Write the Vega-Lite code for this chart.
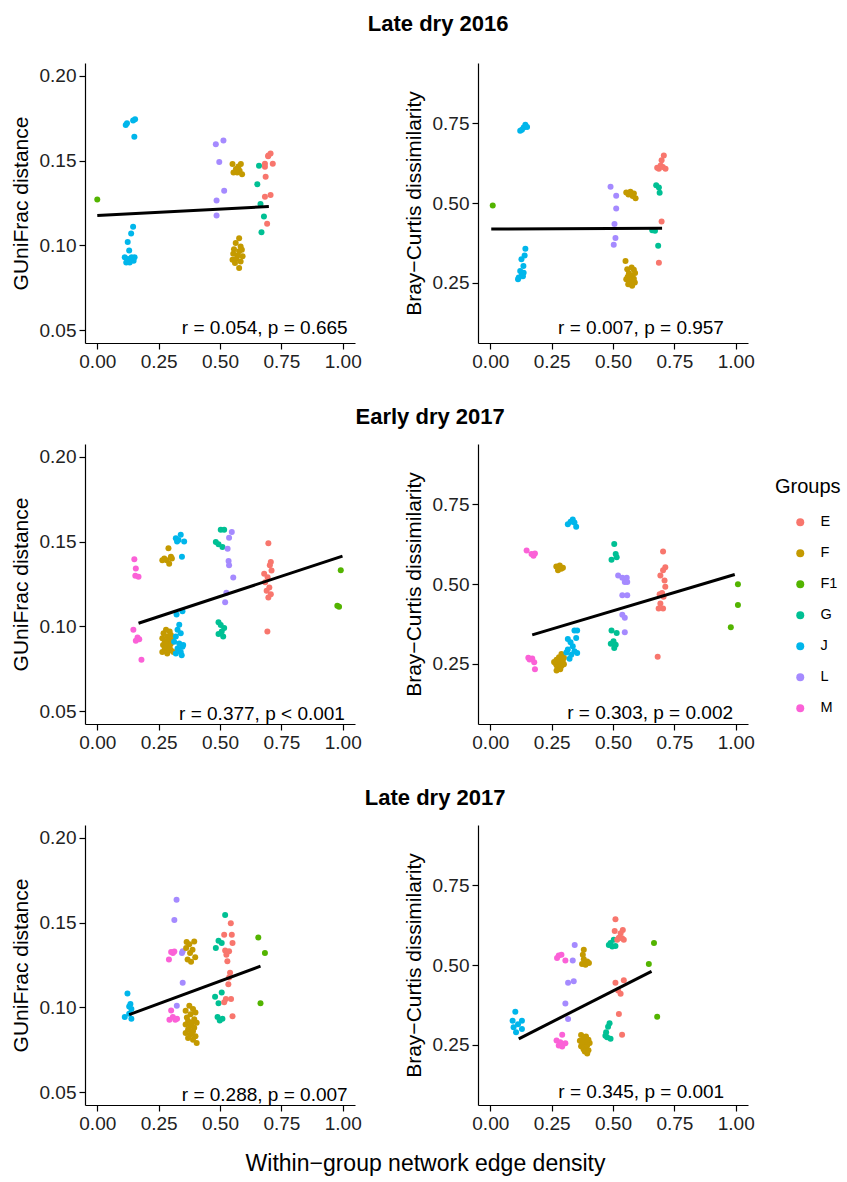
{
"$schema": "https://vega.github.io/schema/vega-lite/v6.json",
"padding": {"left": 10, "top": 13, "right": 0, "bottom": 0},
"config": {
 "font": "Liberation Sans",
 "view": {"stroke": null},
 "axis": {"grid": false, "domainColor": "#000", "domainWidth": 1.2, "tickColor": "#000", "tickWidth": 1.2, "tickSize": 6, "labelColor": "#222", "labelFontSize": 19, "labelPadding": 3, "titleFontSize": 21, "titleFontWeight": "normal", "titleColor": "#000", "titlePadding": 8},
 "legend": {"orient": "none", "legendX": 690, "legendY": 414, "symbolType": "circle", "symbolSize": 64, "symbolOffset": 18, "labelFontSize": 14.5, "labelColor": "#000", "titleFontSize": 20, "titleFontWeight": "normal", "titleColor": "#000", "rowPadding": 16, "titlePadding": 18, "labelOffset": 13, "padding": 0, "symbolStrokeWidth": 0}
},
"datasets": {
 "g16": [
  {"g":"F1","x":0.0,"y":0.127},
  {"g":"J","x":0.116,"y":0.171},{"g":"J","x":0.121,"y":0.172},{"g":"J","x":0.146,"y":0.1736},{"g":"J","x":0.154,"y":0.1744},{"g":"J","x":0.151,"y":0.164},
  {"g":"J","x":0.146,"y":0.111},{"g":"J","x":0.138,"y":0.107},{"g":"J","x":0.124,"y":0.102},{"g":"J","x":0.13,"y":0.097},{"g":"J","x":0.112,"y":0.093},{"g":"J","x":0.125,"y":0.092},{"g":"J","x":0.14,"y":0.093},{"g":"J","x":0.148,"y":0.091},{"g":"J","x":0.118,"y":0.09},{"g":"J","x":0.132,"y":0.09},{"g":"J","x":0.152,"y":0.093},{"g":"J","x":0.128,"y":0.0905},
  {"g":"L","x":0.483,"y":0.1596},{"g":"L","x":0.514,"y":0.1619},{"g":"L","x":0.497,"y":0.1492},{"g":"L","x":0.517,"y":0.1322},{"g":"L","x":0.486,"y":0.1264},{"g":"L","x":0.486,"y":0.1176},
  {"g":"F","x":0.551,"y":0.148},{"g":"F","x":0.585,"y":0.148},{"g":"F","x":0.565,"y":0.145},{"g":"F","x":0.58,"y":0.144},{"g":"F","x":0.555,"y":0.143},{"g":"F","x":0.59,"y":0.142},{"g":"F","x":0.57,"y":0.143},{"g":"F","x":0.575,"y":0.1465},
  {"g":"F","x":0.578,"y":0.1043},{"g":"F","x":0.564,"y":0.1014},{"g":"F","x":0.584,"y":0.0994},{"g":"F","x":0.557,"y":0.0978},{"g":"F","x":0.578,"y":0.0965},{"g":"F","x":0.589,"y":0.0975},{"g":"F","x":0.554,"y":0.0951},{"g":"F","x":0.571,"y":0.0939},{"g":"F","x":0.592,"y":0.0936},{"g":"F","x":0.551,"y":0.0916},{"g":"F","x":0.567,"y":0.092},{"g":"F","x":0.584,"y":0.0906},{"g":"F","x":0.561,"y":0.0897},{"g":"F","x":0.578,"y":0.0867},
  {"g":"G","x":0.659,"y":0.1469},{"g":"G","x":0.652,"y":0.1361},{"g":"G","x":0.665,"y":0.1244},{"g":"G","x":0.679,"y":0.117},{"g":"G","x":0.669,"y":0.1078},
  {"g":"E","x":0.706,"y":0.1541},{"g":"E","x":0.696,"y":0.1525},{"g":"E","x":0.683,"y":0.1482},{"g":"E","x":0.683,"y":0.1463},{"g":"E","x":0.715,"y":0.1482},{"g":"E","x":0.686,"y":0.1404},{"g":"E","x":0.706,"y":0.1297},{"g":"E","x":0.683,"y":0.1287},{"g":"E","x":0.692,"y":0.1127},{"g":"E","x":0.697,"y":0.153}
 ],
 "b16": [
  {"g":"F1","x":0.01,"y":0.492},
  {"g":"J","x":0.122,"y":0.727},{"g":"J","x":0.136,"y":0.737},{"g":"J","x":0.143,"y":0.746},{"g":"J","x":0.15,"y":0.739},{"g":"J","x":0.129,"y":0.73},
  {"g":"J","x":0.143,"y":0.356},{"g":"J","x":0.14,"y":0.335},{"g":"J","x":0.127,"y":0.323},{"g":"J","x":0.135,"y":0.302},{"g":"J","x":0.122,"y":0.286},{"g":"J","x":0.136,"y":0.281},{"g":"J","x":0.129,"y":0.276},{"g":"J","x":0.116,"y":0.266},{"g":"J","x":0.113,"y":0.26},{"g":"J","x":0.133,"y":0.27},
  {"g":"L","x":0.49,"y":0.551},{"g":"L","x":0.513,"y":0.523},{"g":"L","x":0.513,"y":0.483},{"g":"L","x":0.506,"y":0.434},{"g":"L","x":0.51,"y":0.39},{"g":"L","x":0.503,"y":0.369},
  {"g":"F","x":0.554,"y":0.533},{"g":"F","x":0.571,"y":0.535},{"g":"F","x":0.585,"y":0.53},{"g":"F","x":0.563,"y":0.527},{"g":"F","x":0.592,"y":0.515},{"g":"F","x":0.58,"y":0.522},{"g":"F","x":0.575,"y":0.528},
  {"g":"F","x":0.551,"y":0.318},{"g":"F","x":0.576,"y":0.297},{"g":"F","x":0.558,"y":0.292},{"g":"F","x":0.585,"y":0.29},{"g":"F","x":0.565,"y":0.279},{"g":"F","x":0.578,"y":0.271},{"g":"F","x":0.554,"y":0.26},{"g":"F","x":0.571,"y":0.255},{"g":"F","x":0.589,"y":0.25},{"g":"F","x":0.562,"y":0.245},{"g":"F","x":0.578,"y":0.24},{"g":"F","x":0.585,"y":0.262},{"g":"F","x":0.56,"y":0.268},{"g":"F","x":0.59,"y":0.28},
  {"g":"G","x":0.676,"y":0.556},{"g":"G","x":0.687,"y":0.549},{"g":"G","x":0.69,"y":0.532},{"g":"G","x":0.66,"y":0.414},{"g":"G","x":0.671,"y":0.413},{"g":"G","x":0.684,"y":0.366},
  {"g":"E","x":0.707,"y":0.649},{"g":"E","x":0.698,"y":0.634},{"g":"E","x":0.694,"y":0.618},{"g":"E","x":0.687,"y":0.608},{"g":"E","x":0.703,"y":0.613},{"g":"E","x":0.714,"y":0.608},{"g":"E","x":0.68,"y":0.611},{"g":"E","x":0.698,"y":0.442},{"g":"E","x":0.687,"y":0.312}
 ],
 "g17e": [
  {"g":"M","x":0.151,"y":0.1396},{"g":"M","x":0.157,"y":0.1341},{"g":"M","x":0.155,"y":0.1298},{"g":"M","x":0.168,"y":0.1292},{"g":"M","x":0.147,"y":0.098},{"g":"M","x":0.164,"y":0.0934},{"g":"M","x":0.157,"y":0.0915},{"g":"M","x":0.171,"y":0.0925},{"g":"M","x":0.18,"y":0.0804},
  {"g":"F","x":0.29,"y":0.146},{"g":"F","x":0.273,"y":0.14},{"g":"F","x":0.283,"y":0.139},{"g":"F","x":0.3,"y":0.141},{"g":"F","x":0.265,"y":0.139},{"g":"F","x":0.293,"y":0.137},{"g":"F","x":0.304,"y":0.14},
  {"g":"F","x":0.28,"y":0.098},{"g":"F","x":0.295,"y":0.097},{"g":"F","x":0.27,"y":0.096},{"g":"F","x":0.3,"y":0.095},{"g":"F","x":0.285,"y":0.094},{"g":"F","x":0.265,"y":0.093},{"g":"F","x":0.29,"y":0.092},{"g":"F","x":0.305,"y":0.092},{"g":"F","x":0.275,"y":0.091},{"g":"F","x":0.3,"y":0.09},{"g":"F","x":0.268,"y":0.089},{"g":"F","x":0.285,"y":0.089},{"g":"F","x":0.295,"y":0.088},{"g":"F","x":0.275,"y":0.087},{"g":"F","x":0.3,"y":0.086},{"g":"F","x":0.265,"y":0.085},{"g":"F","x":0.285,"y":0.084},{"g":"F","x":0.31,"y":0.085},{"g":"F","x":0.28,"y":0.09},{"g":"F","x":0.29,"y":0.086},
  {"g":"J","x":0.32,"y":0.152},{"g":"J","x":0.34,"y":0.154},{"g":"J","x":0.331,"y":0.151},{"g":"J","x":0.354,"y":0.15},{"g":"J","x":0.345,"y":0.141},{"g":"J","x":0.325,"y":0.15},
  {"g":"J","x":0.347,"y":0.109},{"g":"J","x":0.323,"y":0.107},{"g":"J","x":0.334,"y":0.101},{"g":"J","x":0.327,"y":0.098},{"g":"J","x":0.34,"y":0.096},{"g":"J","x":0.32,"y":0.094},{"g":"J","x":0.313,"y":0.091},{"g":"J","x":0.334,"y":0.09},{"g":"J","x":0.347,"y":0.088},{"g":"J","x":0.327,"y":0.087},{"g":"J","x":0.34,"y":0.085},{"g":"J","x":0.32,"y":0.084},{"g":"J","x":0.344,"y":0.083},{"g":"J","x":0.35,"y":0.089},
  {"g":"G","x":0.483,"y":0.1498},{"g":"G","x":0.494,"y":0.1484},{"g":"G","x":0.503,"y":0.157},{"g":"G","x":0.517,"y":0.157},{"g":"G","x":0.51,"y":0.1468},
  {"g":"G","x":0.494,"y":0.1024},{"g":"G","x":0.503,"y":0.1009},{"g":"G","x":0.517,"y":0.099},{"g":"G","x":0.507,"y":0.097},{"g":"G","x":0.494,"y":0.0956},{"g":"G","x":0.513,"y":0.094},
  {"g":"L","x":0.548,"y":0.1556},{"g":"L","x":0.537,"y":0.1523},{"g":"L","x":0.531,"y":0.1458},{"g":"L","x":0.535,"y":0.1386},{"g":"L","x":0.537,"y":0.1361},{"g":"L","x":0.554,"y":0.1288},{"g":"L","x":0.526,"y":0.1198},{"g":"L","x":0.521,"y":0.1142},
  {"g":"E","x":0.697,"y":0.149},{"g":"E","x":0.707,"y":0.138},{"g":"E","x":0.703,"y":0.136},{"g":"E","x":0.68,"y":0.131},{"g":"E","x":0.694,"y":0.129},{"g":"E","x":0.684,"y":0.126},{"g":"E","x":0.701,"y":0.123},{"g":"E","x":0.69,"y":0.121},{"g":"E","x":0.707,"y":0.119},{"g":"E","x":0.697,"y":0.117},{"g":"E","x":0.693,"y":0.097},{"g":"E","x":0.71,"y":0.133},
  {"g":"F1","x":0.992,"y":0.1331},{"g":"F1","x":0.978,"y":0.1122},{"g":"F1","x":0.985,"y":0.1116}
 ],
 "b17e": [
  {"g":"M","x":0.148,"y":0.605},{"g":"M","x":0.168,"y":0.594},{"g":"M","x":0.182,"y":0.596},{"g":"M","x":0.176,"y":0.589},{"g":"M","x":0.155,"y":0.268},{"g":"M","x":0.171,"y":0.266},{"g":"M","x":0.179,"y":0.254},{"g":"M","x":0.182,"y":0.232},{"g":"M","x":0.16,"y":0.263},
  {"g":"F","x":0.269,"y":0.555},{"g":"F","x":0.283,"y":0.558},{"g":"F","x":0.289,"y":0.548},{"g":"F","x":0.276,"y":0.543},{"g":"F","x":0.296,"y":0.551},{"g":"F","x":0.279,"y":0.553},
  {"g":"F","x":0.29,"y":0.28},{"g":"F","x":0.28,"y":0.27},{"g":"F","x":0.3,"y":0.268},{"g":"F","x":0.27,"y":0.262},{"g":"F","x":0.285,"y":0.258},{"g":"F","x":0.295,"y":0.255},{"g":"F","x":0.265,"y":0.252},{"g":"F","x":0.28,"y":0.25},{"g":"F","x":0.3,"y":0.248},{"g":"F","x":0.27,"y":0.245},{"g":"F","x":0.29,"y":0.242},{"g":"F","x":0.275,"y":0.238},{"g":"F","x":0.285,"y":0.232},{"g":"F","x":0.27,"y":0.228},{"g":"F","x":0.295,"y":0.262},{"g":"F","x":0.26,"y":0.255},
  {"g":"J","x":0.316,"y":0.688},{"g":"J","x":0.336,"y":0.703},{"g":"J","x":0.343,"y":0.693},{"g":"J","x":0.35,"y":0.68},{"g":"J","x":0.327,"y":0.696},
  {"g":"J","x":0.343,"y":0.354},{"g":"J","x":0.354,"y":0.354},{"g":"J","x":0.35,"y":0.33},{"g":"J","x":0.316,"y":0.327},{"g":"J","x":0.327,"y":0.317},{"g":"J","x":0.336,"y":0.304},{"g":"J","x":0.316,"y":0.294},{"g":"J","x":0.343,"y":0.289},{"g":"J","x":0.33,"y":0.278},{"g":"J","x":0.323,"y":0.265},{"g":"J","x":0.354,"y":0.283},{"g":"J","x":0.31,"y":0.285},
  {"g":"G","x":0.505,"y":0.626},{"g":"G","x":0.511,"y":0.594},{"g":"G","x":0.494,"y":0.576},{"g":"G","x":0.515,"y":0.584},{"g":"G","x":0.494,"y":0.354},{"g":"G","x":0.515,"y":0.346},{"g":"G","x":0.502,"y":0.32},{"g":"G","x":0.511,"y":0.309},{"g":"G","x":0.505,"y":0.299},{"g":"G","x":0.491,"y":0.312},
  {"g":"L","x":0.521,"y":0.527},{"g":"L","x":0.538,"y":0.52},{"g":"L","x":0.556,"y":0.52},{"g":"L","x":0.548,"y":0.506},{"g":"L","x":0.558,"y":0.506},{"g":"L","x":0.538,"y":0.465},{"g":"L","x":0.558,"y":0.465},{"g":"L","x":0.538,"y":0.403},{"g":"L","x":0.548,"y":0.394},{"g":"L","x":0.548,"y":0.348},
  {"g":"E","x":0.704,"y":0.602},{"g":"E","x":0.713,"y":0.553},{"g":"E","x":0.704,"y":0.543},{"g":"E","x":0.693,"y":0.527},{"g":"E","x":0.71,"y":0.511},{"g":"E","x":0.713,"y":0.491},{"g":"E","x":0.7,"y":0.472},{"g":"E","x":0.69,"y":0.468},{"g":"E","x":0.706,"y":0.46},{"g":"E","x":0.693,"y":0.439},{"g":"E","x":0.704,"y":0.423},{"g":"E","x":0.686,"y":0.423},{"g":"E","x":0.682,"y":0.271},
  {"g":"F1","x":1.009,"y":0.499},{"g":"F1","x":1.009,"y":0.434},{"g":"F1","x":0.98,"y":0.364}
 ],
 "g17l": [
  {"g":"J","x":0.123,"y":0.1082},{"g":"J","x":0.112,"y":0.0943},{"g":"J","x":0.135,"y":0.102},{"g":"J","x":0.13,"y":0.1005},{"g":"J","x":0.139,"y":0.0991},{"g":"J","x":0.13,"y":0.0962},{"g":"J","x":0.139,"y":0.0933},
  {"g":"M","x":0.301,"y":0.1327},{"g":"M","x":0.292,"y":0.1282},{"g":"M","x":0.308,"y":0.1321},{"g":"M","x":0.314,"y":0.133},{"g":"M","x":0.301,"y":0.0982},{"g":"M","x":0.308,"y":0.0943},{"g":"M","x":0.294,"y":0.0927},{"g":"M","x":0.318,"y":0.0927},{"g":"M","x":0.325,"y":0.0933},
  {"g":"L","x":0.323,"y":0.1635},{"g":"L","x":0.314,"y":0.1515},{"g":"L","x":0.348,"y":0.1331},{"g":"L","x":0.345,"y":0.1321},{"g":"L","x":0.348,"y":0.1146},{"g":"L","x":0.324,"y":0.101},
  {"g":"F","x":0.364,"y":0.1385},{"g":"F","x":0.375,"y":0.1373},{"g":"F","x":0.395,"y":0.1389},{"g":"F","x":0.362,"y":0.135},{"g":"F","x":0.388,"y":0.134},{"g":"F","x":0.378,"y":0.1321},{"g":"F","x":0.368,"y":0.1282},{"g":"F","x":0.399,"y":0.1296},{"g":"F","x":0.382,"y":0.1269},
  {"g":"F","x":0.375,"y":0.101},{"g":"F","x":0.39,"y":0.099},{"g":"F","x":0.36,"y":0.098},{"g":"F","x":0.4,"y":0.097},{"g":"F","x":0.38,"y":0.096},{"g":"F","x":0.365,"y":0.094},{"g":"F","x":0.395,"y":0.093},{"g":"F","x":0.37,"y":0.092},{"g":"F","x":0.385,"y":0.091},{"g":"F","x":0.405,"y":0.091},{"g":"F","x":0.36,"y":0.09},{"g":"F","x":0.38,"y":0.089},{"g":"F","x":0.395,"y":0.088},{"g":"F","x":0.37,"y":0.087},{"g":"F","x":0.39,"y":0.086},{"g":"F","x":0.36,"y":0.085},{"g":"F","x":0.38,"y":0.084},{"g":"F","x":0.4,"y":0.083},{"g":"F","x":0.37,"y":0.082},{"g":"F","x":0.39,"y":0.081},{"g":"F","x":0.405,"y":0.079},{"g":"F","x":0.385,"y":0.0855},
  {"g":"G","x":0.521,"y":0.1544},{"g":"G","x":0.494,"y":0.1393},{"g":"G","x":0.507,"y":0.1379},{"g":"G","x":0.483,"y":0.135},{"g":"G","x":0.48,"y":0.1063},{"g":"G","x":0.507,"y":0.1088},{"g":"G","x":0.494,"y":0.1024},{"g":"G","x":0.49,"y":0.0943},{"g":"G","x":0.499,"y":0.0923},{"g":"G","x":0.51,"y":0.0933},
  {"g":"E","x":0.544,"y":0.1496},{"g":"E","x":0.517,"y":0.1428},{"g":"E","x":0.548,"y":0.1428},{"g":"E","x":0.551,"y":0.1379},{"g":"E","x":0.521,"y":0.1335},{"g":"E","x":0.537,"y":0.1331},{"g":"E","x":0.526,"y":0.1311},{"g":"E","x":0.53,"y":0.1272},{"g":"E","x":0.541,"y":0.1205},{"g":"E","x":0.537,"y":0.1176},{"g":"E","x":0.534,"y":0.1137},{"g":"E","x":0.524,"y":0.1049},{"g":"E","x":0.545,"y":0.1049},{"g":"E","x":0.517,"y":0.103},{"g":"E","x":0.551,"y":0.0948},
  {"g":"F1","x":0.656,"y":0.1412},{"g":"F1","x":0.683,"y":0.1321},{"g":"F1","x":0.665,"y":0.1024}
 ],
 "b17l": [
  {"g":"J","x":0.102,"y":0.353},{"g":"J","x":0.091,"y":0.325},{"g":"J","x":0.129,"y":0.325},{"g":"J","x":0.113,"y":0.314},{"g":"J","x":0.095,"y":0.304},{"g":"J","x":0.129,"y":0.299},{"g":"J","x":0.105,"y":0.289},
  {"g":"M","x":0.279,"y":0.53},{"g":"M","x":0.29,"y":0.532},{"g":"M","x":0.306,"y":0.514},{"g":"M","x":0.272,"y":0.522},{"g":"M","x":0.293,"y":0.281},{"g":"M","x":0.27,"y":0.263},{"g":"M","x":0.285,"y":0.257},{"g":"M","x":0.306,"y":0.254},{"g":"M","x":0.293,"y":0.244},{"g":"M","x":0.279,"y":0.247},
  {"g":"L","x":0.344,"y":0.563},{"g":"L","x":0.336,"y":0.514},{"g":"L","x":0.317,"y":0.444},{"g":"L","x":0.34,"y":0.449},{"g":"L","x":0.306,"y":0.379},{"g":"L","x":0.317,"y":0.33},
  {"g":"F","x":0.381,"y":0.548},{"g":"F","x":0.377,"y":0.532},{"g":"F","x":0.395,"y":0.511},{"g":"F","x":0.374,"y":0.503},{"g":"F","x":0.388,"y":0.501},{"g":"F","x":0.402,"y":0.506},{"g":"F","x":0.381,"y":0.518},
  {"g":"F","x":0.37,"y":0.28},{"g":"F","x":0.39,"y":0.275},{"g":"F","x":0.38,"y":0.27},{"g":"F","x":0.4,"y":0.265},{"g":"F","x":0.365,"y":0.262},{"g":"F","x":0.385,"y":0.258},{"g":"F","x":0.405,"y":0.255},{"g":"F","x":0.375,"y":0.25},{"g":"F","x":0.395,"y":0.248},{"g":"F","x":0.37,"y":0.245},{"g":"F","x":0.39,"y":0.24},{"g":"F","x":0.38,"y":0.235},{"g":"F","x":0.4,"y":0.232},{"g":"F","x":0.385,"y":0.228},{"g":"F","x":0.395,"y":0.222},{"g":"F","x":0.375,"y":0.258},
  {"g":"G","x":0.503,"y":0.579},{"g":"G","x":0.483,"y":0.563},{"g":"G","x":0.497,"y":0.558},{"g":"G","x":0.51,"y":0.56},{"g":"G","x":0.49,"y":0.569},{"g":"G","x":0.486,"y":0.317},{"g":"G","x":0.48,"y":0.306},{"g":"G","x":0.472,"y":0.289},{"g":"G","x":0.476,"y":0.273},{"g":"G","x":0.49,"y":0.268},{"g":"G","x":0.469,"y":0.278},
  {"g":"E","x":0.51,"y":0.644},{"g":"E","x":0.507,"y":0.607},{"g":"E","x":0.54,"y":0.61},{"g":"E","x":0.531,"y":0.6},{"g":"E","x":0.524,"y":0.586},{"g":"E","x":0.537,"y":0.584},{"g":"E","x":0.517,"y":0.579},{"g":"E","x":0.544,"y":0.579},{"g":"E","x":0.51,"y":0.444},{"g":"E","x":0.544,"y":0.452},{"g":"E","x":0.521,"y":0.42},{"g":"E","x":0.531,"y":0.41},{"g":"E","x":0.524,"y":0.346},{"g":"E","x":0.537,"y":0.281},
  {"g":"F1","x":0.667,"y":0.569},{"g":"F1","x":0.646,"y":0.503},{"g":"F1","x":0.68,"y":0.337}
 ]
},
"title": {"text": "Within−group network edge density", "orient": "bottom", "anchor": "middle", "fontSize": 23, "fontWeight": "normal", "color": "#000", "offset": 20},
"spacing": 35,
"vconcat": [
 {"title": {"text": "Late dry 2016", "fontSize": 22, "fontWeight": "bold", "anchor": "middle", "color": "#000", "offset": 27, "dx": 56},
  "spacing": 41,
  "hconcat": [
   {"width": 270, "height": 280, "layer": [
     {"data": {"name": "g16"}, "mark": {"type": "circle", "size": 36, "opacity": 1},
      "encoding": {"x": {"field": "x", "type": "quantitative", "scale": {"domain": [-0.05, 1.05], "nice": false, "zero": false}, "axis": {"values": [0, 0.25, 0.5, 0.75, 1], "format": ".2f", "title": null}},
       "y": {"field": "y", "type": "quantitative", "scale": {"domain": [0.0425, 0.2075], "nice": false, "zero": false}, "axis": {"values": [0.05, 0.1, 0.15, 0.2], "format": ".2f", "title": "GUniFrac distance"}},
       "color": {"field": "g", "type": "nominal", "scale": {"domain": ["E","F","F1","G","J","L","M"], "range": ["#F8766D","#C49A00","#53B400","#00C094","#00B6EB","#A58AFF","#FB61D7"]}, "legend": {"title": "Groups"}}}},
     {"data": {"values": [{"x": 0.0, "y": 0.1176}, {"x": 0.699, "y": 0.1229}]}, "mark": {"type": "line", "color": "#000", "strokeWidth": 3},
      "encoding": {"x": {"field": "x", "type": "quantitative"}, "y": {"field": "y", "type": "quantitative"}}},
     {"data": {"values": [{"label": "r = 0.054, p = 0.665"}]}, "mark": {"type": "text", "align": "right", "baseline": "middle", "fontSize": 19, "color": "#000"},
      "encoding": {"x": {"datum": 1.02, "type": "quantitative"}, "y": {"datum": 0.0514, "type": "quantitative"}, "text": {"field": "label"}}}
   ]},
   {"width": 270, "height": 280, "layer": [
     {"data": {"name": "b16"}, "mark": {"type": "circle", "size": 36, "opacity": 1},
      "encoding": {"x": {"field": "x", "type": "quantitative", "scale": {"domain": [-0.05, 1.05], "nice": false, "zero": false}, "axis": {"values": [0, 0.25, 0.5, 0.75, 1], "format": ".2f", "title": null}},
       "y": {"field": "y", "type": "quantitative", "scale": {"domain": [0.06, 0.94], "nice": false, "zero": false}, "axis": {"values": [0.25, 0.5, 0.75], "format": ".2f", "title": "Bray−Curtis dissimilarity"}},
       "color": {"field": "g", "type": "nominal", "scale": {"domain": ["E","F","F1","G","J","L","M"], "range": ["#F8766D","#C49A00","#53B400","#00C094","#00B6EB","#A58AFF","#FB61D7"]}, "legend": {"title": "Groups"}}}},
     {"data": {"values": [{"x": 0.004, "y": 0.418}, {"x": 0.70, "y": 0.421}]}, "mark": {"type": "line", "color": "#000", "strokeWidth": 3},
      "encoding": {"x": {"field": "x", "type": "quantitative"}, "y": {"field": "y", "type": "quantitative"}}},
     {"data": {"values": [{"label": "r = 0.007, p = 0.957"}]}, "mark": {"type": "text", "align": "right", "baseline": "middle", "fontSize": 19, "color": "#000"},
      "encoding": {"x": {"datum": 0.952, "type": "quantitative"}, "y": {"datum": 0.107, "type": "quantitative"}, "text": {"field": "label"}}}
   ]}
  ]},
 {"title": {"text": "Early dry 2017", "fontSize": 22, "fontWeight": "bold", "anchor": "middle", "color": "#000", "offset": 15, "dx": 48},
  "spacing": 41,
  "hconcat": [
   {"width": 270, "height": 280, "layer": [
     {"data": {"name": "g17e"}, "mark": {"type": "circle", "size": 36, "opacity": 1},
      "encoding": {"x": {"field": "x", "type": "quantitative", "scale": {"domain": [-0.05, 1.05], "nice": false, "zero": false}, "axis": {"values": [0, 0.25, 0.5, 0.75, 1], "format": ".2f", "title": null}},
       "y": {"field": "y", "type": "quantitative", "scale": {"domain": [0.0425, 0.2075], "nice": false, "zero": false}, "axis": {"values": [0.05, 0.1, 0.15, 0.2], "format": ".2f", "title": "GUniFrac distance"}},
       "color": {"field": "g", "type": "nominal", "scale": {"domain": ["E","F","F1","G","J","L","M"], "range": ["#F8766D","#C49A00","#53B400","#00C094","#00B6EB","#A58AFF","#FB61D7"]}, "legend": {"title": "Groups"}}}},
     {"data": {"values": [{"x": 0.168, "y": 0.1019}, {"x": 0.999, "y": 0.1414}]}, "mark": {"type": "line", "color": "#000", "strokeWidth": 3},
      "encoding": {"x": {"field": "x", "type": "quantitative"}, "y": {"field": "y", "type": "quantitative"}}},
     {"data": {"values": [{"label": "r = 0.377, p < 0.001"}]}, "mark": {"type": "text", "align": "right", "baseline": "middle", "fontSize": 19, "color": "#000"},
      "encoding": {"x": {"datum": 1.009, "type": "quantitative"}, "y": {"datum": 0.0485, "type": "quantitative"}, "text": {"field": "label"}}}
   ]},
   {"width": 270, "height": 280, "layer": [
     {"data": {"name": "b17e"}, "mark": {"type": "circle", "size": 36, "opacity": 1},
      "encoding": {"x": {"field": "x", "type": "quantitative", "scale": {"domain": [-0.05, 1.05], "nice": false, "zero": false}, "axis": {"values": [0, 0.25, 0.5, 0.75, 1], "format": ".2f", "title": null}},
       "y": {"field": "y", "type": "quantitative", "scale": {"domain": [0.06, 0.94], "nice": false, "zero": false}, "axis": {"values": [0.25, 0.5, 0.75], "format": ".2f", "title": "Bray−Curtis dissimilarity"}},
       "color": {"field": "g", "type": "nominal", "scale": {"domain": ["E","F","F1","G","J","L","M"], "range": ["#F8766D","#C49A00","#53B400","#00C094","#00B6EB","#A58AFF","#FB61D7"]}, "legend": {"title": "Groups"}}}},
     {"data": {"values": [{"x": 0.171, "y": 0.340}, {"x": 0.996, "y": 0.53}]}, "mark": {"type": "line", "color": "#000", "strokeWidth": 3},
      "encoding": {"x": {"field": "x", "type": "quantitative"}, "y": {"field": "y", "type": "quantitative"}}},
     {"data": {"values": [{"label": "r = 0.303, p = 0.002"}]}, "mark": {"type": "text", "align": "right", "baseline": "middle", "fontSize": 19, "color": "#000"},
      "encoding": {"x": {"datum": 0.989, "type": "quantitative"}, "y": {"datum": 0.0955, "type": "quantitative"}, "text": {"field": "label"}}}
   ]}
  ]},
 {"title": {"text": "Late dry 2017", "fontSize": 22, "fontWeight": "bold", "anchor": "middle", "color": "#000", "offset": 15, "dx": 53},
  "spacing": 41,
  "hconcat": [
   {"width": 270, "height": 280, "layer": [
     {"data": {"name": "g17l"}, "mark": {"type": "circle", "size": 36, "opacity": 1},
      "encoding": {"x": {"field": "x", "type": "quantitative", "scale": {"domain": [-0.05, 1.05], "nice": false, "zero": false}, "axis": {"values": [0, 0.25, 0.5, 0.75, 1], "format": ".2f", "title": null}},
       "y": {"field": "y", "type": "quantitative", "scale": {"domain": [0.0425, 0.2075], "nice": false, "zero": false}, "axis": {"values": [0.05, 0.1, 0.15, 0.2], "format": ".2f", "title": "GUniFrac distance"}},
       "color": {"field": "g", "type": "nominal", "scale": {"domain": ["E","F","F1","G","J","L","M"], "range": ["#F8766D","#C49A00","#53B400","#00C094","#00B6EB","#A58AFF","#FB61D7"]}, "legend": {"title": "Groups"}}}},
     {"data": {"values": [{"x": 0.13, "y": 0.0958}, {"x": 0.665, "y": 0.1243}]}, "mark": {"type": "line", "color": "#000", "strokeWidth": 3},
      "encoding": {"x": {"field": "x", "type": "quantitative"}, "y": {"field": "y", "type": "quantitative"}}},
     {"data": {"values": [{"label": "r = 0.288, p = 0.007"}]}, "mark": {"type": "text", "align": "right", "baseline": "middle", "fontSize": 19, "color": "#000"},
      "encoding": {"x": {"datum": 1.02, "type": "quantitative"}, "y": {"datum": 0.0485, "type": "quantitative"}, "text": {"field": "label"}}}
   ]},
   {"width": 270, "height": 280, "layer": [
     {"data": {"name": "b17l"}, "mark": {"type": "circle", "size": 36, "opacity": 1},
      "encoding": {"x": {"field": "x", "type": "quantitative", "scale": {"domain": [-0.05, 1.05], "nice": false, "zero": false}, "axis": {"values": [0, 0.25, 0.5, 0.75, 1], "format": ".2f", "title": null}},
       "y": {"field": "y", "type": "quantitative", "scale": {"domain": [0.06, 0.94], "nice": false, "zero": false}, "axis": {"values": [0.25, 0.5, 0.75], "format": ".2f", "title": "Bray−Curtis dissimilarity"}},
       "color": {"field": "g", "type": "nominal", "scale": {"domain": ["E","F","F1","G","J","L","M"], "range": ["#F8766D","#C49A00","#53B400","#00C094","#00B6EB","#A58AFF","#FB61D7"]}, "legend": {"title": "Groups"}}}},
     {"data": {"values": [{"x": 0.116, "y": 0.268}, {"x": 0.657, "y": 0.48}]}, "mark": {"type": "line", "color": "#000", "strokeWidth": 3},
      "encoding": {"x": {"field": "x", "type": "quantitative"}, "y": {"field": "y", "type": "quantitative"}}},
     {"data": {"values": [{"label": "r = 0.345, p = 0.001"}]}, "mark": {"type": "text", "align": "right", "baseline": "middle", "fontSize": 19, "color": "#000"},
      "encoding": {"x": {"datum": 0.953, "type": "quantitative"}, "y": {"datum": 0.102, "type": "quantitative"}, "text": {"field": "label"}}}
   ]}
  ]}
]
}
